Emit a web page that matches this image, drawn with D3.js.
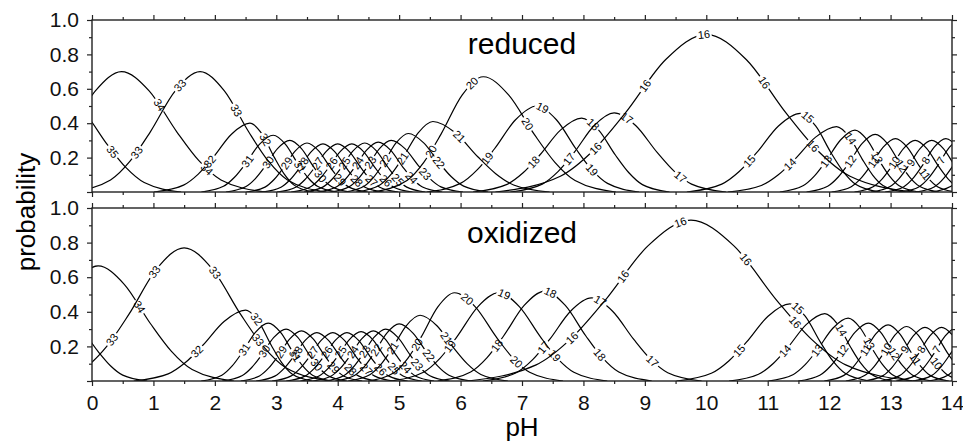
<!DOCTYPE html>
<html>
<head>
<meta charset="utf-8">
<script src="https://cdn.jsdelivr.net/npm/d3@7"></script>
<style>
  body { margin: 0; background: #fff; }
  svg { display: block; font-family: "Liberation Sans", Arial, Helvetica, sans-serif; }
</style>
</head>
<body>
<div id="chart"></div>
<script>

// protonation states, one curve each (number printed on the curve)
const states = [35, 34, 33, 32, 31, 30, 29, 28, 27, 26, 25, 24, 23, 22, 21, 20,
                19, 18, 17, 16, 15, 14, 13, 12, 11, 10, 9, 8, 7, 6, 5];

// reduced: pH of the maximum, maximum probability, half widths at half max (pH)
const redPeakPH = [-0.5, 0.48, 1.76, 2.57, 2.95, 3.22, 3.50, 3.76, 4.00, 4.23, 4.44, 4.66, 4.87, 5.15, 5.55, 6.37,
                   7.24, 7.97, 8.50, 10.0, 11.53, 12.12, 12.42, 12.75, 13.08, 13.40, 13.67, 13.90, 14.15, 14.40, 14.65];
const redPeakP  = [0.55, 0.70, 0.70, 0.40, 0.33, 0.30, 0.285, 0.28, 0.28, 0.28, 0.285, 0.29, 0.30, 0.34, 0.41, 0.67,
                   0.50, 0.43, 0.46, 0.917, 0.457, 0.38, 0.36, 0.335, 0.31, 0.30, 0.30, 0.31, 0.31, 0.31, 0.30];
const redHalfL  = [0.75, 0.85, 0.81, 0.60, 0.45, 0.40, 0.38, 0.38, 0.38, 0.38, 0.38, 0.38, 0.38, 0.40, 0.48, 0.69,
                   0.69, 0.68, 0.65, 1.32, 0.71, 0.68, 0.47, 0.43, 0.40, 0.38, 0.38, 0.38, 0.38, 0.38, 0.38];
const redHalfR  = [0.75, 0.90, 0.79, 0.40, 0.40, 0.38, 0.38, 0.38, 0.38, 0.38, 0.38, 0.40, 0.45, 0.50, 0.73, 0.83,
                   0.64, 0.55, 0.70, 1.30, 0.50, 0.42, 0.40, 0.40, 0.38, 0.38, 0.38, 0.38, 0.38, 0.38, 0.38];

// oxidized
const oxPeakPH = [-0.4, 0.10, 1.50, 2.50, 2.87, 3.16, 3.41, 3.66, 3.92, 4.15, 4.38, 4.58, 4.78, 5.00, 5.34, 5.90,
                  6.62, 7.37, 8.13, 9.75, 11.36, 11.93, 12.31, 12.64, 12.96, 13.26, 13.56, 13.83, 14.08, 14.35, 14.60];
const oxPeakP  = [0.34, 0.665, 0.77, 0.41, 0.335, 0.30, 0.29, 0.28, 0.28, 0.28, 0.285, 0.29, 0.30, 0.33, 0.38, 0.51,
                  0.51, 0.52, 0.48, 0.93, 0.446, 0.39, 0.363, 0.334, 0.325, 0.315, 0.31, 0.31, 0.31, 0.31, 0.30];
const oxHalfL  = [0.50, 0.80, 0.90, 0.70, 0.42, 0.40, 0.38, 0.38, 0.38, 0.38, 0.38, 0.38, 0.38, 0.40, 0.45, 0.54,
                  0.68, 0.67, 0.68, 1.40, 0.71, 0.60, 0.50, 0.44, 0.40, 0.38, 0.38, 0.38, 0.38, 0.38, 0.38];
const oxHalfR  = [0.50, 0.85, 0.92, 0.42, 0.40, 0.38, 0.38, 0.38, 0.38, 0.38, 0.38, 0.38, 0.40, 0.45, 0.55, 0.68,
                  0.68, 0.67, 0.69, 1.40, 0.50, 0.42, 0.40, 0.40, 0.38, 0.38, 0.38, 0.38, 0.38, 0.38, 0.38];

// shape of one curve: distance from the max in half widths, and fraction of the max
const profU = [-2.6, -1.8, -1.4, -1, -0.5, 0, 0.5, 1, 1.4, 1.8, 2.6];
const profF = [0, 0.1, 0.26, 0.5, 0.84, 1, 0.84, 0.5, 0.26, 0.1, 0];

const xMajor = [0, 1, 2, 3, 4, 5, 6, 7, 8, 9, 10, 11, 12, 13, 14];
const xMinor = [0.5, 1.5, 2.5, 3.5, 4.5, 5.5, 6.5, 7.5, 8.5, 9.5, 10.5, 11.5, 12.5, 13.5];
const yMajor = [0, 0.2, 0.4, 0.6, 0.8, 1.0];
const yMinor = [0.1, 0.3, 0.5, 0.7, 0.9];

let dim = { width: 963, height: 445 };

let svg = d3.select('#chart').append('svg')
    .attr('width', dim.width)
    .attr('height', dim.height);

let defs = svg.append('defs');

let x = d3.scaleLinear().domain([0, 14]).range([92, 952]);

const panels = [
  { name: 'reduced', top: 20, bottom: 192, titleY: 54, showX: false,
    peakPH: redPeakPH, peakP: redPeakP, halfL: redHalfL, halfR: redHalfR },
  { name: 'oxidized', top: 208, bottom: 381, titleY: 243, showX: true,
    peakPH: oxPeakPH, peakP: oxPeakP, halfL: oxHalfL, halfR: oxHalfR }
];

function styleAxis(g, showText) {
  g.select('.domain').remove();
  g.selectAll('line').attr('stroke', '#222').attr('stroke-width', 1.2);
  g.selectAll('text')
    .attr('font-size', 21)
    .attr('font-family', '"Liberation Sans", Arial, sans-serif')
    .attr('fill', '#111');
  if (!showText) g.selectAll('text').remove();
}

panels.forEach(p => {
  let y = d3.scaleLinear().domain([0, 1]).range([p.bottom, p.top]);
  let g = svg.append('g');

  defs.append('clipPath').attr('id', 'clip-' + p.name)
    .append('rect')
    .attr('x', x(0)).attr('y', y(1))
    .attr('width', x(14) - x(0)).attr('height', y(0) - y(1));

  let line = d3.line()
      .x(d => x(d[0]))
      .y(d => y(d[1]))
      .curve(d3.curveMonotoneX);

  let curveG = g.append('g').attr('clip-path', `url(#clip-${p.name})`);
  let labelG = g.append('g');

  states.forEach((s, i) => {
    let pk = p.peakPH[i], h = p.peakP[i];
    let pts = profU.map((u, k) => [pk + u * (u < 0 ? p.halfL[i] : p.halfR[i]), profF[k] * h]);

    let path = curveG.append('path')
        .datum(pts)
        .attr('d', line)
        .attr('fill', 'none')
        .attr('stroke', '#000')
        .attr('stroke-width', 1.2);

    // labels every ~80px along the curve, like contour labels
    let node = path.node();
    let len = node.getTotalLength();
    let minY = y(Math.max(0.03, 0.15 * h));
    let s0 = null;
    for (let t = 0; t < len; t += 2) {
      if (node.getPointAtLength(t).y < minY) { s0 = t; break; }
    }
    let labels = [];
    if (s0 !== null) {
      for (let t = s0 + 28; t < len; t += 80) {
        let pt = node.getPointAtLength(t);
        if (pt.y > minY) continue;
        if (pt.x < x(0) + 7 || pt.x > x(14) - 7) continue;
        let a = node.getPointAtLength(Math.max(0, t - 4));
        let b = node.getPointAtLength(Math.min(len, t + 4));
        let ang = Math.atan2(b.y - a.y, b.x - a.x) * 180 / Math.PI;
        labels.push({ x: pt.x, y: pt.y, ang: ang });
      }
    }

    let txt = String(s);
    let w = txt.length * 6.2 + 3;
    let maskId = `m-${p.name}-${s}`;
    let mask = defs.append('mask').attr('id', maskId)
        .attr('maskUnits', 'userSpaceOnUse')
        .attr('x', 0).attr('y', 0).attr('width', dim.width).attr('height', dim.height);
    mask.append('rect').attr('width', dim.width).attr('height', dim.height).attr('fill', '#fff');
    labels.forEach(l => {
      mask.append('rect')
        .attr('x', -w / 2).attr('y', -4.5)
        .attr('width', w).attr('height', 9)
        .attr('fill', '#000')
        .attr('transform', `translate(${l.x},${l.y}) rotate(${l.ang})`);
      labelG.append('text')
        .attr('transform', `translate(${l.x},${l.y}) rotate(${l.ang})`)
        .attr('text-anchor', 'middle')
        .attr('dy', '0.36em')
        .attr('font-size', 11)
        .attr('fill', '#000')
        .text(txt);
    });
    path.attr('mask', `url(#${maskId})`);
  });

  // axes, ticks outward
  let ax = svg.append('g');
  ax.append('g').attr('transform', `translate(0,${p.bottom})`)
    .call(d3.axisBottom(x).tickValues(xMajor).tickSize(5).tickPadding(9).tickFormat(d3.format('d')))
    .call(g => styleAxis(g, p.showX));
  ax.append('g').attr('transform', `translate(0,${p.bottom})`)
    .call(d3.axisBottom(x).tickValues(xMinor).tickSize(3).tickFormat(() => ''))
    .call(g => styleAxis(g, false));
  ax.append('g').attr('transform', `translate(0,${p.top})`)
    .call(d3.axisTop(x).tickValues(xMajor).tickSize(5).tickFormat(() => ''))
    .call(g => styleAxis(g, false));
  ax.append('g').attr('transform', `translate(0,${p.top})`)
    .call(d3.axisTop(x).tickValues(xMinor).tickSize(3).tickFormat(() => ''))
    .call(g => styleAxis(g, false));
  ax.append('g').attr('transform', `translate(${x(0)},0)`)
    .call(d3.axisLeft(y).tickValues(yMajor).tickSize(5).tickPadding(8)
      .tickFormat(d => d === 0 ? '' : d.toFixed(1)))
    .call(g => styleAxis(g, true));
  ax.append('g').attr('transform', `translate(${x(0)},0)`)
    .call(d3.axisLeft(y).tickValues(yMinor).tickSize(3).tickFormat(() => ''))
    .call(g => styleAxis(g, false));
  ax.append('g').attr('transform', `translate(${x(14)},0)`)
    .call(d3.axisRight(y).tickValues(yMajor).tickSize(5).tickFormat(() => ''))
    .call(g => styleAxis(g, false));
  ax.append('g').attr('transform', `translate(${x(14)},0)`)
    .call(d3.axisRight(y).tickValues(yMinor).tickSize(3).tickFormat(() => ''))
    .call(g => styleAxis(g, false));

  ax.append('rect')
    .attr('x', x(0)).attr('y', y(1))
    .attr('width', x(14) - x(0)).attr('height', y(0) - y(1))
    .attr('fill', 'none')
    .attr('stroke', '#222')
    .attr('stroke-width', 1.4);

  svg.append('text')
    .attr('x', (x(0) + x(14)) / 2)
    .attr('y', p.titleY)
    .attr('text-anchor', 'middle')
    .attr('font-size', 30)
    .attr('fill', '#000')
    .text(p.name);
});

svg.append('text')
  .attr('x', (x(0) + x(14)) / 2)
  .attr('y', 436)
  .attr('text-anchor', 'middle')
  .attr('font-size', 26)
  .text('pH');

svg.append('text')
  .attr('transform', 'translate(35,212) rotate(-90)')
  .attr('text-anchor', 'middle')
  .attr('font-size', 26)
  .text('probability');

</script>
</body>
</html>
